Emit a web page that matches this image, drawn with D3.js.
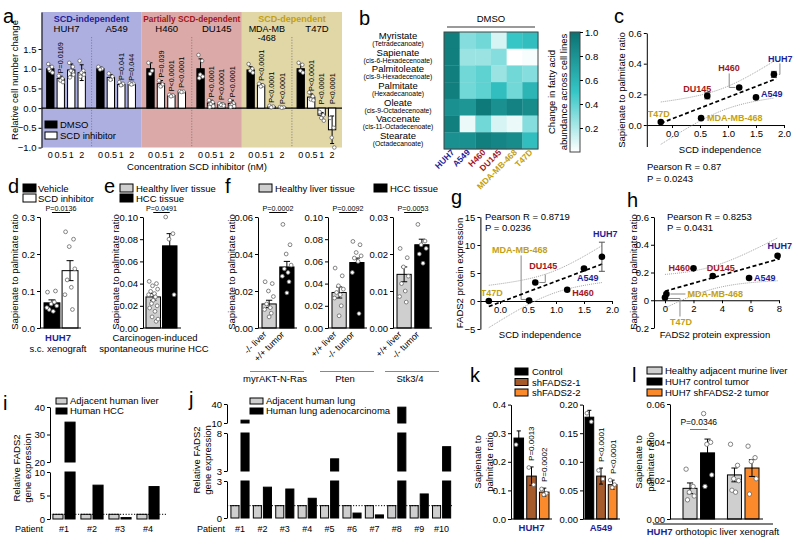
<!DOCTYPE html>
<html><head><meta charset="utf-8">
<script src="https://cdn.jsdelivr.net/npm/d3@7/dist/d3.min.js"></script>
<style>html,body{margin:0;padding:0;background:#fff}svg{display:block;font-family:"Liberation Sans",Arial,Helvetica,sans-serif}</style>
</head><body><svg id="fig" width="800" height="547"></svg>
<script>
// ================= DATA =================
// panel a
const aCellLines = ["HUH7","A549","H460","DU145","MDA-MB-468","T47D"];
const aConc = ["0","0.5","1","2"];
const aGroups = ["SCD-independent","Partially SCD-dependent","SCD-dependent"];
const aMeans = [[1.0,0.75,0.97,0.9],[1.0,0.78,0.6,0.6],[1.0,0.62,0.32,0.42],[1.0,0.13,0.1,0.12],[0.97,0.58,0.04,0.02],[1.0,0.28,-0.18,-0.55]];
const aErrs = [[0.08,0.06,0.15,0.2],[0.04,0.07,0.04,0.02],[0.15,0.08,0.03,0.02],[0.25,0.07,0.03,0.08],[0.08,0.04,0.02,0.01],[0.12,0.08,0.07,0.35]];
const aDots = [
 [[1.12,1.05,0.95,0.9,1.0],[0.82,0.75,0.7,0.66],[1.15,1.05,0.95,0.85,0.78],[1.2,0.95,0.9,0.85,0.8]],
 [[1.05,1.0,0.98],[0.88,0.8,0.72],[0.66,0.62,0.58],[0.63,0.62,0.6]],
 [[1.15,0.95,0.87],[0.7,0.6,0.55],[0.34,0.32,0.3],[0.43,0.42,0.41]],
 [[1.35,1.2,0.85,0.8,0.76],[0.2,0.15,0.1,0.05,0.03],[0.12,0.1,0.08,0.06],[0.2,0.12,0.08,0.05,0.03]],
 [[1.12,1.0,0.95,0.9],[0.62,0.58,0.55],[0.06,0.04,0.02],[0.03,0.02,0.01]],
 [[1.15,1.1,0.95,0.9],[0.4,0.3,0.22,0.2],[-0.1,-0.18,-0.25,-0.32],[-0.25,-0.5,-0.75,-1.0]]
];
const aPvals = [["","P=0.0169","",""],["","","P=0.041","P=0.044"],["","P=0.039","P<0.0001","P<0.0001"],["","P<0.0001","P<0.0001","P<0.0001"],["","P<0.0001","P<0.0001","P<0.0001"],["","P<0.0001","P<0.0001","P<0.0001"]];
const aYTicks = [-1,-0.5,0,0.5,1,1.5];

// panel b
const hmRows = ["Myristate","Sapienate","Palmitoleate","Palmitate","Oleate","Vaccenate","Stearate"];
const hmSub = ["(Tetradecanoate)","(cis-6-Hexadecenoate)","(cis-9-Hexadecenoate)","(Hexadecanoate)","(cis-9-Octadecenoate)","(cis-11-Octadecenoate)","(Octadecanoate)"];
const hmCols = ["HUH7","A549","H460","DU145","MDA-MB-468","T47D"];
const hmValues = [
 [0.92,0.3,0.35,0.1,0.5,0.55],
 [0.92,0.25,0.25,0.3,0.0,0.02],
 [0.92,0.35,0.4,0.25,0.35,0.3],
 [0.92,0.35,0.4,0.55,0.35,0.6],
 [0.82,0.78,0.95,0.82,0.9,0.85],
 [0.92,0.05,0.35,0.1,0.05,0.3],
 [0.82,0.82,0.92,0.88,0.85,0.55]
];
const cbTicks = [0.2,0.4,0.6,0.8,1.0];

// panels c, g, h (cell-line scatter)
const scLines = ["T47D","MDA-MB-468","DU145","H460","A549","HUH7"];
const scdIndependence = [-0.2,0.52,0.63,1.2,1.5,1.82];
const sapPalRatio = [0.02,0.045,0.19,0.245,0.18,0.33];
const sapPalErr = [0.005,0.005,0.02,0.008,0.008,0.02];
const fads2Protein = [0.0,0.1,3.3,2.0,5.8,7.9];
const fads2Err = [0.2,0.2,0.3,0.2,0.3,2.6];
const hFads2 = [0.0,0.1,3.35,2.0,5.9,7.9];
const hRatio = [0.02,0.045,0.175,0.23,0.16,0.32];
const hRatioErr = [0.005,0.005,0.012,0.008,0.008,0.015];

// panel d
const dGroups = ["Vehicle","SCD inhibitor"];
const dMeans = [0.068,0.155];
const dErrs = [0.008,0.027];
const dDots = [[0.097,0.1,0.065,0.06,0.05,0.045,0.055,0.07],[0.26,0.24,0.22,0.16,0.13,0.11,0.09,0.05]];
// panel e
const eGroups = ["Healthy liver tissue","HCC tissue"];
const eMeans = [0.028,0.074];
const eErrs = [0.003,0.011];
const eDots = [[0.042,0.04,0.038,0.035,0.033,0.031,0.03,0.028,0.025,0.022,0.02,0.018,0.015,0.01,0.006,0.008],[0.1,0.085,0.08,0.03]];
// panel f
const fModels = ["myrAKT-N-Ras","Pten","Stk3/4"];
const fLabels = [["-/- liver","+/+ tumor"],["+/+ liver","-/- tumor"],["+/+ liver","-/- tumor"]];
const fMeans = [[0.013,0.033],[0.032,0.059],[0.0145,0.0225]];
const fErrs = [[0.002,0.003],[0.005,0.004],[0.002,0.0015]];
const fDots = [
 [[0.025,0.024,0.02,0.017,0.013,0.011,0.01,0.008,0.006],[0.056,0.045,0.04,0.034,0.032,0.03,0.028,0.025,0.019]],
 [[0.054,0.047,0.038,0.035,0.032,0.03,0.027,0.02,0.011],[0.078,0.075,0.068,0.065,0.063,0.06,0.05,0.013]],
 [[0.0215,0.019,0.0165,0.014,0.012,0.01,0.0085,0.007],[0.028,0.0235,0.0225,0.0215,0.02,0.0175]]
];
const fP = ["P=0.0002","P=0.0092","P=0.0053"];
const fTicks = [[0,0.02,0.04,0.06],[0,0.02,0.04,0.06,0.08,0.1],[0,0.01,0.02,0.03]];

// panel i
const iPatients = ["#1","#2","#3","#4"];
const iAdjacent = [1,1,1,1];
const iHCC = [34.5,7.2,0.3,6.9];
// panel j
const jPatients = ["#1","#2","#3","#4","#5","#6","#7","#8","#9","#10"];
const jAdjacent = [1,1,1,1,1,1,1,1,1,1];
const jLUAD = [14.5,2.5,2.35,1.6,4.6,0.4,0.25,35,1.95,6.2];

// panel k
const kGroups = ["Control","shFADS2-1","shFADS2-2"];
const kHuh7Means = [0.283,0.15,0.094];
const kHuh7Errs = [0.025,0.032,0.014];
const kHuh7Dots = [[0.26],[0.18,0.12],[0.105,0.09,0.085]];
const kHuh7P = ["","P=0.0013","P=0.0002"];
const kA549Means = [0.178,0.075,0.06];
const kA549Errs = [0.012,0.014,0.008];
const kA549Dots = [[0.185,0.17],[0.085,0.07],[0.068,0.06,0.055]];
const kA549P = ["","P<0.0001","P<0.0001"];

// panel l
const lGroups = ["Healthy adjacent murine liver","HUH7 control tumor","Healthy adjacent murine liver","HUH7 shFADS2-2 tumor"];
const lMeans = [0.016,0.0345,0.023,0.0266];
const lErrs = [0.0028,0.0072,0.0036,0.0044];
const lDots = [[0.026,0.017,0.014,0.012,0.01],[0.055,0.04,0.039,0.023,0.017],[0.039,0.028,0.021,0.02,0.015,0.014],[0.038,0.032,0.03,0.021,0.013]];

// ================= HELPERS =================
const svg = d3.select("#fig");
const FF = '"Liberation Sans", Arial, Helvetica, sans-serif';
const NAVY = "#1f1f9a", RED = "#a3161c", GOLD = "#c49f12";
const lineColor = {"HUH7":NAVY,"A549":NAVY,"H460":RED,"DU145":RED,"MDA-MB-468":GOLD,"T47D":GOLD};
const GRAY = "#cfcfcf", BROWN = "#a65b2c", ORANGE = "#fb8a2c";

function T(g,x,y,s,o={}){
  const t=g.append("text").attr("x",x).attr("y",y).text(s)
    .attr("font-family",FF).attr("font-size",o.size||9).attr("fill",o.fill||"#000")
    .attr("text-anchor",o.anchor||"start");
  if(o.bold) t.attr("font-weight","bold");
  if(o.rot!=null) t.attr("transform",`rotate(${o.rot},${x},${y})`);
  if(o.len) t.attr("textLength",o.len).attr("lengthAdjust","spacingAndGlyphs");
  return t;
}
function L(g,x1,y1,x2,y2,o={}){
  return g.append("line").attr("x1",x1).attr("y1",y1).attr("x2",x2).attr("y2",y2)
    .attr("stroke",o.stroke||"#000").attr("stroke-width",o.w||1).attr("stroke-dasharray",o.dash||null);
}
function styleAxis(a,size){
  a.attr("font-family",FF);
  a.selectAll("text").attr("font-size",size||9).attr("fill","#000").attr("font-family",FF);
  a.selectAll("path,line").attr("stroke","#000").attr("stroke-width",1);
}
function axL(g,scale,x,ticks,fmt,size){
  const a=g.append("g").attr("transform",`translate(${x},0)`)
    .call(d3.axisLeft(scale).tickValues(ticks).tickFormat(fmt).tickSize(3).tickSizeOuter(0).tickPadding(2));
  styleAxis(a,size);return a;
}
function axB(g,scale,y,ticks,fmt,size){
  const a=g.append("g").attr("transform",`translate(0,${y})`)
    .call(d3.axisBottom(scale).tickValues(ticks).tickFormat(fmt).tickSize(3).tickSizeOuter(0).tickPadding(2));
  styleAxis(a,size);return a;
}
const JIT=[-0.28,0.22,-0.05,0.3,-0.18,0.08,-0.32,0.15,0.0,-0.12,0.27,-0.25,0.12,-0.08,0.2,0.33];
function drawBar(g,x,w,y,v,fill,err,dots,r){
  const y0=y(0),yv=y(v);
  g.append("rect").attr("x",x).attr("y",Math.min(y0,yv)).attr("width",w)
    .attr("height",Math.max(0.8,Math.abs(y0-yv))).attr("fill",fill).attr("stroke","#000").attr("stroke-width",1);
  const cx=x+w/2;
  if(err){
    const y1=y(v+err),y2=y(v-err),c=Math.max(2,w*0.22);
    L(g,cx,y1,cx,y2);L(g,cx-c,y1,cx+c,y1);L(g,cx-c,y2,cx+c,y2);
  }
  (dots||[]).forEach((d,i)=>g.append("circle").attr("cx",cx+JIT[i%JIT.length]*w).attr("cy",y(d))
    .attr("r",r||2).attr("fill","#fff").attr("stroke","#666").attr("stroke-width",0.8));
}
function legendBox(g,x,y,w,h,fill,label,tx,size){
  g.append("rect").attr("x",x).attr("y",y).attr("width",w).attr("height",h).attr("fill",fill).attr("stroke","#000").attr("stroke-width",1);
  T(g,tx,y+h,label,{size:size||9});
}
function fit(xs,ys){
  const n=xs.length,mx=d3.mean(xs),my=d3.mean(ys);
  let sxx=0,sxy=0;xs.forEach((x,i)=>{sxx+=(x-mx)**2;sxy+=(x-mx)*(ys[i]-my);});
  const b=sxy/sxx,a=my-b*mx;let sse=0;xs.forEach((x,i)=>{sse+=(ys[i]-a-b*x)**2;});
  const s=Math.sqrt(sse/(n-2)),t=2.776;
  return {a,b,band:x=>t*s*Math.sqrt(1/n+(x-mx)**2/sxx)};
}
function scatterPanel(g,X,Y,xs,ys,errs,labels){
  const f=fit(xs,ys),x0=d3.min(xs),x1=d3.max(xs);
  const samp=d3.range(0,41).map(i=>x0+(x1-x0)*i/40);
  const ln=d3.line().x(d=>X(d[0])).y(d=>Y(d[1]));
  [1,-1].forEach(sg=>g.append("path").attr("d",ln(samp.map(x=>[x,f.a+f.b*x+sg*f.band(x)])))
    .attr("fill","none").attr("stroke","#9a9a9a").attr("stroke-width",0.9).attr("stroke-dasharray","1,1"));
  g.append("path").attr("d",ln([[x0,f.a+f.b*x0],[x1+0.02*(x1-x0),f.a+f.b*(x1+0.02*(x1-x0))]]))
    .attr("fill","none").attr("stroke","#000").attr("stroke-width",1.7).attr("stroke-dasharray","4,2.5");
  xs.forEach((x,i)=>{
    const cx=X(x),e=errs[i];
    if(Math.abs(Y(ys[i]+e)-Y(ys[i]))>3){L(g,cx,Y(ys[i]+e),cx,Y(ys[i]-e),{stroke:"#555"});L(g,cx-3,Y(ys[i]+e),cx+3,Y(ys[i]+e),{stroke:"#555"});L(g,cx-3,Y(ys[i]-e),cx+3,Y(ys[i]-e),{stroke:"#555"});}
    g.append("circle").attr("cx",cx).attr("cy",Y(ys[i])).attr("r",3.3).attr("fill","#000");
  });
  labels.forEach((lb,i)=>{ if(!lb) return;
    T(g,X(xs[i])+lb[0],Y(ys[i])+lb[1],scLines[i],{bold:true,fill:lineColor[scLines[i]],size:9,anchor:lb[2]||"start"});
  });
}

// ================= PANEL a =================
{
  const g=svg.append("g");
  const X=d3.scaleBand().domain(aCellLines).range([41.5,342]);
  const Xi=d3.scaleBand().domain(aConc).range([2,47]).padding(0.3);
  const Y=d3.scaleLinear().domain([-1,2.44]).range([147.5,12]);
  const span=[[0,1],[2,3],[4,5]],boxFill=["#adafe0","#dba9a7","#e1d6a6"],boxText=[NAVY,RED,GOLD];
  aGroups.forEach((name,k)=>{
    const x0=X(aCellLines[span[k][0]]),x1=X(aCellLines[span[k][1]])+X.bandwidth();
    g.append("rect").attr("x",x0).attr("y",Y(2.44)).attr("width",x1-x0).attr("height",Y(-1)-Y(2.44)).attr("fill",boxFill[k]);
    T(g,(x0+x1)/2,21.5,name,{anchor:"middle",bold:true,fill:boxText[k],size:9,len:k===1?97:null});
    const xs=X(aCellLines[span[k][1]]);
    L(g,xs,37,xs,147.5,{stroke:"#777",w:0.8,dash:"1.2,1.5"});
  });
  aCellLines.forEach((c,i)=>{
    const gx=X(c)+X.bandwidth()/2;
    if(c==="MDA-MB-468"){T(g,gx,31.5,"MDA-MB",{anchor:"middle",size:9});T(g,gx,41,"-468",{anchor:"middle",size:9});}
    else T(g,gx,32,c,{anchor:"middle",size:9.5});
  });
  L(g,41.5,Y(0),342,Y(0),{w:1.2});
  aCellLines.forEach((c,i)=>aConc.forEach((cc,j)=>{
    const x=X(c)+Xi(cc),w=Xi.bandwidth(),v=aMeans[i][j],e=aErrs[i][j];
    drawBar(g,x,w,Y,v,j===0?"#000":"#fff",e,aDots[i][j],1.8);
    T(g,x+w/2,157.5,cc,{anchor:"middle",size:9});
    if(aPvals[i][j]){
      const top=v>0?Y(v+e)-3:Y(0)-4;
      T(g,x+w/2+2.6,top,aPvals[i][j],{rot:-90,size:7.2});
    }
  }));
  axL(g,Y,41.5,aYTicks,d3.format(".1f"),9.5);
  T(g,197,169.5,"Concentration SCD inhibitor (nM)",{anchor:"middle",size:9.5});
  T(g,17.5,80,"Relative cell number change",{anchor:"middle",rot:-90,size:9.5});
  legendBox(g,45,121,12,7,"#000","DMSO",60,9.5);
  legendBox(g,45,132,12,7,"#fff","SCD inhibitor",60,9.5);
  T(g,3,23,"a",{size:20});
}

// ================= PANEL b =================
{
  const g=svg.append("g");
  const HX=d3.scaleBand().domain(hmCols).range([444,538]);
  const HY=d3.scaleBand().domain(hmRows).range([32,149]);
  const col=d3.scaleLinear().domain([0,0.5,1]).range(["#ffffff","#36c6c6","#0b7171"]);
  hmValues.forEach((row,r)=>row.forEach((v,c)=>{
    g.append("rect").attr("x",HX(hmCols[c])).attr("y",HY(hmRows[r])).attr("width",HX.bandwidth()+0.3).attr("height",HY.bandwidth()+0.3).attr("fill",col(v));
  }));
  g.append("rect").attr("x",444).attr("y",32).attr("width",94).attr("height",117).attr("fill","none").attr("stroke","#444").attr("stroke-width",1);
  hmRows.forEach((r,i)=>{
    const cy=HY(r)+HY.bandwidth()/2;
    T(g,398,cy-1.5,r,{anchor:"middle",size:9.5});
    T(g,398,cy+5.5,hmSub[i],{anchor:"middle",size:6.8});
  });
  hmCols.forEach(c=>{
    const x=HX(c)+HX.bandwidth()/2+3;
    T(g,x,153,c,{anchor:"end",rot:-45,bold:true,fill:lineColor[c],size:8.5});
  });
  T(g,491,22,"DMSO",{anchor:"middle",size:9.5});
  L(g,447,27,535,27,{stroke:"#9a9a9a",w:2});
  const defs=svg.append("defs");
  const gr=defs.append("linearGradient").attr("id","cbg").attr("x1",0).attr("y1",1).attr("x2",0).attr("y2",0);
  [0,0.25,0.5,0.75,1].forEach(s=>gr.append("stop").attr("offset",s).attr("stop-color",col(s)));
  g.append("rect").attr("x",570).attr("y",32).attr("width",10).attr("height",120).attr("fill","url(#cbg)").attr("stroke","#444").attr("stroke-width",1);
  const CB=d3.scaleLinear().domain([0,1]).range([152,32]);
  const a=g.append("g").attr("transform","translate(580,0)").call(d3.axisRight(CB).tickValues(cbTicks).tickFormat(d3.format(".1f")).tickSize(3).tickSizeOuter(0).tickPadding(2));
  styleAxis(a,9.5); a.select(".domain").remove();
  T(g,555,92,"Change in fatty acid",{anchor:"middle",rot:-90,size:9.5});
  T(g,567,92,"abundance across cell lines",{anchor:"middle",rot:-90,size:9.5});
  T(g,359,25,"b",{size:20});
}

// ================= PANEL c =================
{
  const g=svg.append("g");
  const X=d3.scaleLinear().domain([-0.45,2.0]).range([646.8,784]);
  const Y=d3.scaleLinear().domain([-0.14,0.6]).range([146.5,33]);
  axL(g,Y,646.8,[0,0.2,0.4,0.6],d3.format(".1f"),9.5);
  axB(g,X,Y(0),[0,0.5,1,1.5,2],d3.format(".1f"),9.5);
  g.append("path").attr("d",`M${X(1.82)+5},${Y(0.33)}H${X(1.82)+6}V${Y(0.33)-11}`).attr("fill","none").attr("stroke","#888");
  g.append("path").attr("d",`M${X(1.2)-10},${Y(0.245)-14}V${Y(0.245)}H${X(1.2)-4}`).attr("fill","none").attr("stroke","#888");
  scatterPanel(g,X,Y,scdIndependence,sapPalRatio,sapPalErr,
    [[-13,-5],[6,3],[-24,-4],[-21,-16],[5,0],[-6,-12]]);
  T(g,720,153,"SCD independence",{anchor:"middle",size:9.5});
  T(g,625,90,"Sapienate to palmitate ratio",{anchor:"middle",rot:-90,size:9.5});
  T(g,647,170,"Pearson R = 0.87",{size:9.5});
  T(g,647,182,"P = 0.0243",{size:9.5});
  T(g,614,23,"c",{size:20});
}

// ================= PANEL d =================
{
  const g=svg.append("g");
  const Y=d3.scaleLinear().domain([0,0.3]).range([328,217]);
  const X=d3.scaleBand().domain(dGroups).range([44,78]).paddingInner(0.12);
  dGroups.forEach((k,i)=>drawBar(g,X(k),X.bandwidth(),Y,dMeans[i],i===0?"#000":"#fff",dErrs[i],dDots[i],1.9));
  axL(g,Y,40,[0,0.1,0.2,0.3],d3.format(".1f"),9.5);
  L(g,40,Y(0),81,Y(0));
  const c0=X(dGroups[0])+X.bandwidth()/2,c1=X(dGroups[1])+X.bandwidth()/2;
  T(g,(c0+c1)/2,210.5,"P=0.0136",{anchor:"middle",size:7.2});L(g,c0,212.5,c1,212.5);
  legendBox(g,23,184,13,8,"#000","Vehicle",38,9.5);
  legendBox(g,23,194,13,8,"#fff","SCD inhibitor",38,9.5);
  T(g,58,341,"HUH7",{anchor:"middle",bold:true,fill:NAVY,size:9.5});
  T(g,58,352,"s.c. xenograft",{anchor:"middle",size:9.5});
  T(g,18,272,"Sapienate to palmitate ratio",{anchor:"middle",rot:-90,size:9.5});
  T(g,8,193,"d",{size:20});
}

// ================= PANEL e =================
{
  const g=svg.append("g");
  const Y=d3.scaleLinear().domain([0,0.1]).range([328,217]);
  const X=d3.scaleBand().domain(eGroups).range([146,177]).paddingInner(0.12);
  eGroups.forEach((k,i)=>drawBar(g,X(k),X.bandwidth(),Y,eMeans[i],i===0?GRAY:"#000",eErrs[i],eDots[i],1.9));
  axL(g,Y,143,[0,0.02,0.04,0.06,0.08,0.1],d3.format(".2f"),9.5);
  L(g,143,Y(0),181,Y(0));
  const c0=X(eGroups[0])+X.bandwidth()/2,c1=X(eGroups[1])+X.bandwidth()/2;
  T(g,(c0+c1)/2,210.5,"P=0.0491",{anchor:"middle",size:7.2});L(g,c0,212.5,c1,212.5);
  legendBox(g,120,184,13,8,GRAY,"Healthy liver tissue",136,9.5);
  legendBox(g,120,194,13,8,"#000","HCC tissue",136,9.5);
  T(g,155,341,"Carcinogen-induced",{anchor:"middle",size:9.5});
  T(g,154,352,"spontaneous murine HCC",{anchor:"middle",size:9.5});
  T(g,118.5,272,"Sapienate to palmitate ratio",{anchor:"middle",rot:-90,size:9.5});
  T(g,104,193,"e",{size:20});
}

// ================= PANEL f =================
{
  const g=svg.append("g");
  const axX=[258,328,393];
  fModels.forEach((m,k)=>{
    const top=fTicks[k][fTicks[k].length-1];
    const Y=d3.scaleLinear().domain([0,top]).range([328,217]);
    const X=d3.scaleBand().domain([0,1]).range([axX[k]+4,axX[k]+36]).paddingInner(0.2);
    [0,1].forEach(i=>drawBar(g,X(i),X.bandwidth(),Y,fMeans[k][i],i===0?GRAY:"#000",fErrs[k][i],fDots[k][i],1.9));
    axL(g,Y,axX[k],fTicks[k],d3.format(".2f"),9.5);
    L(g,axX[k],Y(0),axX[k]+39,Y(0));
    const c0=X(0)+X.bandwidth()/2,c1=X(1)+X.bandwidth()/2;
    T(g,(c0+c1)/2,210.5,fP[k],{anchor:"middle",size:7.2});L(g,c0,212.5,c1,212.5);
    [0,1].forEach(i=>{const cx=X(i)+X.bandwidth()/2;T(g,cx-2,335,fLabels[k][i],{anchor:"end",rot:-45,size:9});});
    const mid=(axX[k]+axX[k]+38)/2;
    L(g,mid-27,371.5,mid+27,371.5,{stroke:"#888"});
    T(g,mid-2,382,m,{anchor:"middle",size:9.5});
  });
  legendBox(g,259,184,13,8,GRAY,"Healthy liver tissue",275,9.5);
  legendBox(g,374,184,13,8,"#000","HCC tissue",390,9.5);
  T(g,235,272,"Sapienate to palmitate ratio",{anchor:"middle",rot:-90,size:9.5});
  T(g,225,193,"f",{size:20});
}

// ================= PANEL g =================
{
  const g=svg.append("g");
  const X=d3.scaleLinear().domain([-0.35,2.0]).range([480.4,612]);
  const Y=d3.scaleLinear().domain([-5,15]).range([329,217]);
  axL(g,Y,480.4,[-5,0,5,10,15],d3.format("d"),9.5);
  axB(g,X,Y(0),[0,0.5,1,1.5,2],d3.format(".1f"),9.5);
  g.append("path").attr("d",`M${X(0.52)-8},${Y(0.1)-45}V${Y(0.1)-1}H${X(0.52)}`).attr("fill","none").attr("stroke","#888");
  g.append("path").attr("d",`M${X(0.63)+4},${Y(3.3)}H${X(0.63)+10}V${Y(3.3)-8}`).attr("fill","none").attr("stroke","#888");
  scatterPanel(g,X,Y,scdIndependence,fads2Protein,fads2Err,
    [[-8,-5],[-37,-47],[-6,-14],[5,6],[-7,12],[-9,-20]]);
  T(g,540,338,"SCD independence",{anchor:"middle",size:9.5});
  T(g,463,273,"FADS2 protein expression",{anchor:"middle",rot:-90,size:9.5});
  T(g,485,220,"Pearson R = 0.8719",{size:9.5});
  T(g,485,231,"P = 0.0236",{size:9.5});
  T(g,451,204,"g",{size:20});
}

// ================= PANEL h =================
{
  const g=svg.append("g");
  const X=d3.scaleLinear().domain([-0.77,8]).range([654,779]);
  const Y=d3.scaleLinear().domain([-0.2,0.6]).range([328,217]);
  axL(g,Y,654,[-0.2,0,0.2,0.4,0.6],d=>d===0?"0":d3.format(".1f")(d),9.5);
  axB(g,X,Y(0),[0,2,4,6,8],d3.format("d"),9.5);
  g.append("path").attr("d",`M${X(0)+3},${Y(0.02)+1}H${X(0)+15}V${Y(0.02)+19}`).attr("fill","none").attr("stroke","#888");
  g.append("path").attr("d",`M${X(0.1)+4},${Y(0.045)}H${X(0.1)+19}`).attr("fill","none").attr("stroke","#888");
  scatterPanel(g,X,Y,hFads2,hRatio,hRatioErr,
    [[5,28],[21,3],[-6,-5],[-25,3],[5,3],[-10,-7]]);
  T(g,715,338,"FADS2 protein expression",{anchor:"middle",size:9.5});
  T(g,637,272,"Sapienate to palmitate ratio",{anchor:"middle",rot:-90,size:9.5});
  T(g,667,220,"Pearson R = 0.8253",{size:9.5});
  T(g,667,231,"P = 0.0431",{size:9.5});
  T(g,627,207,"h",{size:20});
}

// ============ broken-axis bar helper (i, j) ============
function brokenBars(g,X,segs,axX,adj,tum,lineX1){
  const bw=X.bandwidth(),w=bw*0.36;
  segs.forEach(s=>{
    const Y=d3.scaleLinear().domain(s.d).range(s.r);
    axL(g,Y,axX,s.t,d3.format("d"),9.5);
    X.domain().forEach((p,i)=>{
      const cx=X(p)+bw/2;
      [[adj[i],GRAY,cx-w-1],[tum[i],"#000",cx+1]].forEach(([v,fill,x])=>{
        if(v>s.d[0]){
          const top=Math.min(v,s.d[1]);
          g.append("rect").attr("x",x).attr("y",Y(top)).attr("width",w).attr("height",Y(s.d[0])-Y(top))
            .attr("fill",fill).attr("stroke","#000").attr("stroke-width",1);
        }
      });
    });
    if(s.d[0]===0) L(g,axX,Y(1),lineX1,Y(1),{dash:"1.2,1.6",w:1});
  });
  X.domain().forEach(p=>T(g,X(p)+bw/2,531.5,p,{anchor:"middle",size:9}));
}

// ================= PANEL i =================
{
  const g=svg.append("g");
  const X=d3.scaleBand().domain(iPatients).range([50,162]);
  brokenBars(g,X,[{d:[0,10],r:[519,472],t:[0,5,10]},{d:[20,40],r:[462,407],t:[20,30,40]}],50,iAdjacent,iHCC,166);
  T(g,29,531.5,"Patient",{anchor:"middle",size:9});
  legendBox(g,56,398,11,6,GRAY,"Adjacent human liver",70,9.5);
  legendBox(g,56,408,11,6,"#000","Human HCC",70,9.5);
  T(g,20,468,"Relative FADS2",{anchor:"middle",rot:-90,size:9.5});
  T(g,31,468,"gene expression",{anchor:"middle",rot:-90,size:9.5});
  T(g,3,410,"i",{size:20});
}

// ================= PANEL j =================
{
  const g=svg.append("g");
  const X=d3.scaleBand().domain(jPatients).range([228.8,452.8]);
  brokenBars(g,X,[{d:[0,3],r:[518,481],t:[0,3]},{d:[3,8],r:[471,433],t:[3,8]},{d:[10,40],r:[423,404],t:[10,40]}],227,jAdjacent,jLUAD,452);
  T(g,211,531.5,"Patient",{anchor:"middle",size:9});
  legendBox(g,250,398,13,6,GRAY,"Adjacent human lung",266,9.5);
  legendBox(g,250,408,13,6,"#000","Human lung adenocarcinoma",266,9.5);
  T(g,200,460,"Relative FADS2",{anchor:"middle",rot:-90,size:9.5});
  T(g,211,460,"gene expression",{anchor:"middle",rot:-90,size:9.5});
  T(g,189,406,"j",{size:20});
}

// ================= PANEL k =================
{
  const g=svg.append("g");
  const fills=["#000",BROWN,ORANGE];
  const sub=[
    {ax:511,r:[514,549],dom:[0,0.4],t:[0,0.1,0.2,0.3,0.4],f:".1f",m:kHuh7Means,e:kHuh7Errs,d:kHuh7Dots,p:kHuh7P,name:"HUH7"},
    {ax:583,r:[585,617],dom:[0,0.2],t:[0,0.05,0.1,0.15,0.2],f:".2f",m:kA549Means,e:kA549Errs,d:kA549Dots,p:kA549P,name:"A549"}
  ];
  sub.forEach(s=>{
    const Y=d3.scaleLinear().domain(s.dom).range([519,404.6]);
    const X=d3.scaleBand().domain(kGroups).range(s.r).paddingInner(0.25);
    kGroups.forEach((k,i)=>{
      const x=X(k),w=X.bandwidth(),v=s.m[i],e=s.e[i];
      drawBar(g,x,w,Y,v,fills[i],e,s.d[i],1.9);
      if(s.p[i]) T(g,x+w/2+3,Y(v+e)-6,s.p[i],{rot:-90,size:8});
    });
    axL(g,Y,s.ax,s.t,d3.format(s.f),9.5);
    L(g,s.ax,519,s.r[1]+3,519);
    T(g,(s.r[0]+s.r[1])/2,531,s.name,{anchor:"middle",bold:true,fill:NAVY,size:9.5});
  });
  kGroups.forEach((k,i)=>legendBox(g,515,368+i*10.5,13,7,fills[i],k,532,9.5));
  T(g,481,462,"Sapienate to",{anchor:"middle",rot:-90,size:9.5});
  T(g,492.5,462,"palmitate ratio",{anchor:"middle",rot:-90,size:9.5});
  T(g,470,382,"k",{size:20});
}

// ================= PANEL l =================
{
  const g=svg.append("g");
  const fills=[GRAY,"#000",GRAY,ORANGE];
  const Y=d3.scaleLinear().domain([0,0.06]).range([519,404]);
  const Xo=d3.scaleBand().domain(["control","shFADS2"]).range([681,761]).paddingInner(0.2);
  const pairs=[["control",0],["control",1],["shFADS2",0],["shFADS2",1]];
  const Xi=d3.scaleBand().domain([0,1]).range([2,Xo.bandwidth()-2]).paddingInner(0.2);
  const cx=[];
  lMeans.forEach((v,i)=>{
    const x=Xo(pairs[i][0])+Xi(pairs[i][1]),w=Xi.bandwidth();
    cx.push(x+w/2);
    drawBar(g,x,w,Y,v,fills[i],lErrs[i],lDots[i],2.2);
  });
  axL(g,Y,670,[0,0.02,0.04,0.06],d3.format(".2f"),9.5);
  L(g,670,519,763,519);
  T(g,(cx[0]+cx[1])/2,425,"P=0.0346",{anchor:"middle",size:8.5});
  L(g,cx[0],429.5,cx[1],429.5,{stroke:"#777"});
  L(g,653,524,773,524);
  const t=T(g,713,535,"",{anchor:"middle",size:9.5});
  t.append("tspan").attr("font-weight","bold").attr("fill",NAVY).text("HUH7");
  t.append("tspan").text(" orthotopic liver xenograft");
  [[GRAY,lGroups[0]],["#000",lGroups[1]],[ORANGE,lGroups[3]]].forEach(([f,n],i)=>legendBox(g,647,367+i*11,15,7,f,n,665,9.5));
  T(g,642,462,"Sapienate to",{anchor:"middle",rot:-90,size:9.5});
  T(g,654,462,"palmitate ratio",{anchor:"middle",rot:-90,size:9.5});
  T(g,632,382,"l",{size:20});
}
</script></body></html>
